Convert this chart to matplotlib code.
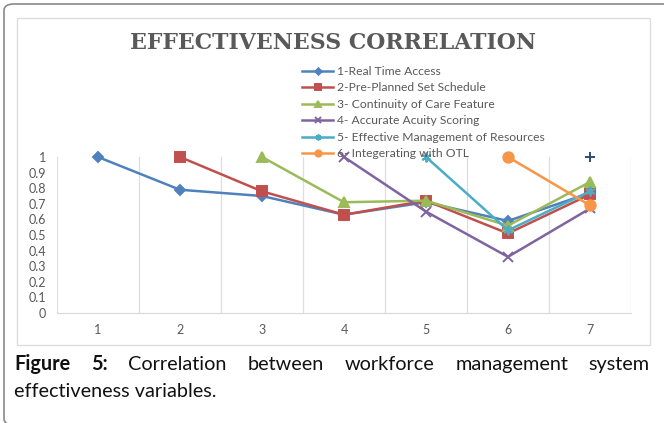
import matplotlib
matplotlib.use('Agg')
import matplotlib.pyplot as plt
import numpy as np
from matplotlib.patches import FancyBboxPatch, Rectangle

nan = np.nan

# Categories on the x axis
categories = [1, 2, 3, 4, 5, 6, 7]
x_labels = ['1', '2', '3', '4', '5', '6', '7']
y_ticks = [0, 0.1, 0.2, 0.3, 0.4, 0.5, 0.6, 0.7, 0.8, 0.9, 1]
y_labels = ['0', '0.1', '0.2', '0.3', '0.4', '0.5', '0.6', '0.7', '0.8', '0.9', '1']

# Series values
real_time = [1.00, 0.79, 0.75, 0.63, 0.71, 0.59, 0.77]
pre_planned = [nan, 1.00, 0.78, 0.63, 0.72, 0.51, 0.76]
continuity = [nan, nan, 1.00, 0.71, 0.72, 0.56, 0.84]
acuity = [nan, nan, nan, 1.00, 0.65, 0.36, 0.67]
resources = [nan, nan, nan, nan, 1.00, 0.53, 0.78]
otl = [nan, nan, nan, nan, nan, 1.00, 0.69]
seventh = [nan, nan, nan, nan, nan, nan, 1.00]

names = ['1-Real Time Access', '2-Pre-Planned Set Schedule', '3- Continuity of Care Feature',
         '4- Accurate Acuity Scoring', '5- Effective Management of Resources',
         '6- Integerating with OTL', None]

W, H = 664, 423
fig = plt.figure(figsize=(W / 100, H / 100), dpi=100)


def fx(px):
    return px / W


def fy(py):
    return 1 - py / H


# outer rounded frame and inner chart box
fig.patches.append(FancyBboxPatch((fx(4), fy(425)), fx(720) - fx(4), fy(4) - fy(425),
                                  boxstyle='round,pad=0,rounding_size=0.015',
                                  transform=fig.transFigure, fill=False,
                                  edgecolor='#8a8a8a', linewidth=1.2))
fig.patches.append(Rectangle((fx(17), fy(345)), fx(650) - fx(17), fy(18) - fy(345),
                             transform=fig.transFigure, fill=False,
                             edgecolor='#dcdcdc', linewidth=1.0))

ax = fig.add_axes([fx(57), fy(313), fx(631) - fx(57), fy(157) - fy(313)])

colors = ['#4F81BD', '#C0504D', '#9BBB59', '#8064A2', '#4BACC6', '#F79646', '#2C4D75']
markers = ['D', 's', '^', 'x', (6, 2, 0), 'o', '+']
sizes = [5.5, 7.5, 7, 7, 7, 7.5, 7]
all_series = [real_time, pre_planned, continuity, acuity, resources, otl, seventh]

for vals, name, c, m, ms in zip(all_series, names, colors, markers, sizes):
    ax.plot(categories, vals, color=c, marker=m, markersize=ms, linewidth=1.8,
            markeredgewidth=1.4, label=name if name else '_nolegend_', clip_on=False)

ax.set_xlim(0.5, 7.5)
ax.set_ylim(0, 1)
ax.set_xticks(categories)
ax.set_xticklabels(x_labels)
ax.set_yticks(y_ticks)
ax.set_yticklabels(y_labels)
ax.set_xticks(np.arange(0.5, 8, 1), minor=True)
ax.grid(True, which='minor', axis='x', color='#dedede', linewidth=0.9)
ax.tick_params(which='both', length=0)
ax.tick_params(axis='y', pad=8, labelsize=9, labelcolor='#595959')
ax.tick_params(axis='x', pad=8, labelsize=9, labelcolor='#595959')
for lab in ax.get_xticklabels() + ax.get_yticklabels():
    lab.set_family('Lato')
for side in ['top', 'right', 'left']:
    ax.spines[side].set_visible(False)
ax.spines['bottom'].set_color('#d9d9d9')
ax.set_axisbelow(True)

leg = ax.legend(loc='upper left', bbox_to_anchor=(fx(302), fy(66)),
                bbox_transform=fig.transFigure, frameon=False, borderpad=0,
                borderaxespad=0, handlelength=2.6, handletextpad=0.3,
                labelspacing=0.45, markerscale=0.6,
                prop={'family': 'Lato', 'size': 8.7})
for t in leg.get_texts():
    t.set_color('#595959')

fig.text(fx(333), fy(49), 'EFFECTIVENESS CORRELATION', ha='center', va='baseline',
         family='DejaVu Serif', fontweight='bold', fontsize=15.8, color='#595959')

# caption, first line justified between x=14 and x=650
renderer = fig.canvas.get_renderer()
words = [('Figure', 'bold'), ('5:', 'bold'), ('Correlation', 'normal'), ('between', 'normal'),
         ('workforce', 'normal'), ('management', 'normal'), ('system', 'normal')]
cap_size = 14.3
objs = []
for w, wt in words:
    t = fig.text(0, fy(370), w, ha='left', va='baseline', family='Lato',
                 fontweight=wt, fontsize=cap_size, color='#111111')
    objs.append(t)
widths = [t.get_window_extent(renderer).width for t in objs]
gap = (650 - 14 - sum(widths)) / (len(objs) - 1)
x = 14
for t, wd in zip(objs, widths):
    t.set_x(fx(x))
    x += wd + gap
fig.text(fx(14), fy(397), 'effectiveness variables.', ha='left', va='baseline',
         family='Lato', fontsize=cap_size, color='#111111')

fig.savefig('out.png', dpi=100)
